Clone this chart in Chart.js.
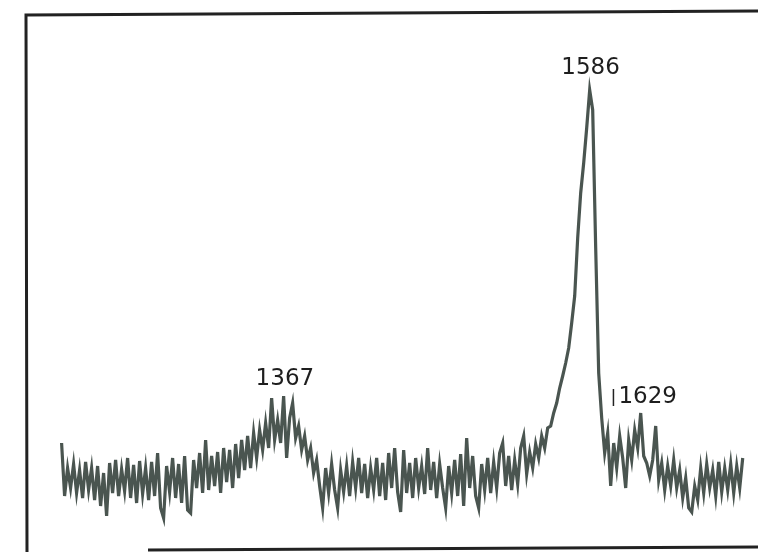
<!DOCTYPE html>
<html lang="en">
<head>
  <title>Raman spectrum</title>
  <script src="https://cdn.jsdelivr.net/npm/chart.js@4.4.1/dist/chart.umd.min.js"></script>
  <style>
    body { margin:0; background:#fff; }
    #wrap { position:relative; width:758px; height:552px; }
  </style>
</head>
<body>
<div id="wrap"><canvas id="spec"></canvas></div>

<script>
// raman shift sampling (cm-1)
const shiftStart = 1207;
const shiftStep = 2.15;

// intensity, arbitrary units
const intensity = [
  105, 52, 80, 60, 84, 55, 78, 50, 86, 58, 80, 48, 82, 42, 75, 32, 85, 55, 88, 52,
  79, 57, 90, 50, 83, 45, 87, 54, 80, 48, 86, 52, 95, 40, 30, 82, 56, 90, 50, 84,
  45, 92, 38, 35, 88, 60, 95, 55, 108, 58, 92, 62, 96, 55, 100, 66, 98, 60, 104, 70,
  108, 78, 112, 80, 115, 90, 118, 98, 125, 100, 150, 108, 128, 105, 152, 90, 130, 145, 110, 122,
  98, 112, 88, 100, 75, 88, 62, 40, 80, 55, 84, 58, 40, 78, 56, 82, 52, 86, 60, 90,
  55, 84, 50, 80, 58, 90, 52, 85, 48, 95, 60, 100, 56, 36, 98, 55, 85, 50, 90, 60,
  82, 54, 100, 58, 86, 50, 84, 60, 40, 82, 55, 88, 52, 94, 42, 110, 60, 92, 52, 40,
  84, 58, 90, 55, 86, 60, 95, 105, 62, 92, 58, 88, 64, 100, 112, 74, 96, 80, 104, 90,
  112, 100, 120, 122, 135, 145, 160, 172, 185, 200, 225, 252, 310, 355, 385, 420, 458, 438, 300, 175,
  130, 95, 115, 62, 105, 80, 112, 90, 60, 108, 88, 118, 100, 135, 92, 85, 72, 88, 122, 68,
  85, 58, 82, 62, 88, 60, 78, 50, 70, 40, 36, 62, 48, 80, 55, 84, 60, 78, 52, 86,
  56, 80, 58, 84, 55, 82, 60, 90
];
const shift = intensity.map((v, i) => +(shiftStart + i * shiftStep).toFixed(2));

// peak annotations
const peakNames = ['1367', '1586', '1629'];
const peakAt = [1367, 1586, 1606];
const peakHeight = [169, 480, 151];
const peakAlign = ['center', 'center', 'left'];

// frame + peak labels drawn on top
const framePlugin = {
  id: 'frame',
  afterDatasetsDraw(chart) {
    const c = chart.ctx;
    const xs = chart.scales.x, ys = chart.scales.y;
    c.save();
    c.strokeStyle = '#222';
    c.lineWidth = 3;
    c.beginPath();
    c.moveTo(27, 552); c.lineTo(26, 15); c.lineTo(758, 11);
    c.stroke();
    c.beginPath();
    c.moveTo(148, 550); c.lineTo(758, 547);
    c.stroke();

    c.fillStyle = '#1e1e1e';
    c.font = '23px "DejaVu Sans"';
    c.textBaseline = 'middle';
    for (let i = 0; i < peakNames.length; i++) {
      c.textAlign = peakAlign[i];
      c.fillText(peakNames[i], xs.getPixelForValue(peakAt[i]), ys.getPixelForValue(peakHeight[i]));
    }
    // small tick before 1629
    const tx = xs.getPixelForValue(peakAt[2]) - 5;
    c.lineWidth = 1.5;
    c.beginPath();
    c.moveTo(tx, ys.getPixelForValue(peakHeight[2]) - 8);
    c.lineTo(tx, ys.getPixelForValue(peakHeight[2]) + 9);
    c.stroke();
    c.restore();
  }
};

new Chart(document.getElementById('spec'), {
  type: 'line',
  data: {
    datasets: [{
      data: intensity.map((v, i) => ({ x: shift[i], y: v })),
      borderColor: '#4a5550',
      borderWidth: 3.2,
      pointRadius: 0,
      tension: 0,
      fill: false
    }]
  },
  options: {
    responsive: true,
    maintainAspectRatio: false,
    animation: false,
    layout: { padding: { left: 26, top: 13, right: 0, bottom: 4 } },
    plugins: { legend: { display: false }, tooltip: { enabled: false } },
    scales: {
      x: { type: 'linear', min: 1181.5, max: 1706, display: false },
      y: { min: 0, max: 535, display: false }
    }
  },
  plugins: [framePlugin]
});
</script>
</body>
</html>
